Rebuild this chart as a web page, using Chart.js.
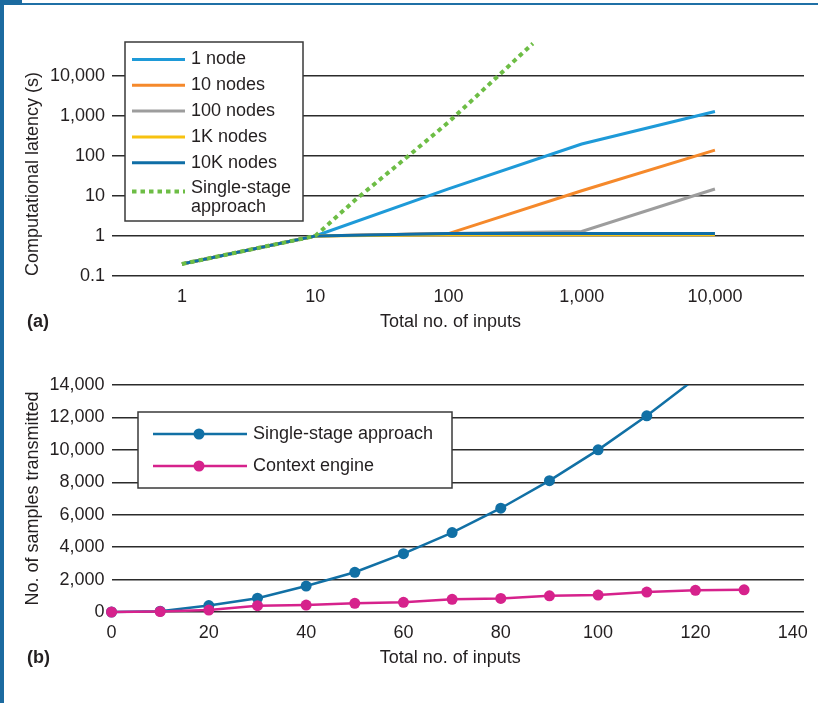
<!DOCTYPE html>
<html>
<head>
<meta charset="utf-8">
<title>Latency and samples</title>
<script src="https://cdn.jsdelivr.net/npm/chart.js@4.4.1/dist/chart.umd.min.js"></script>
<style>
  html, body { margin: 0; padding: 0; background: #fff; }
  #wrap { position: relative; width: 818px; height: 703px; overflow: hidden;
          font-family: "Liberation Sans", Arial, sans-serif; color: #231f20; }
  .frame-left { position: absolute; left: 0; top: 0; width: 4px; height: 703px; background: #1c6ba0; }
  .frame-top { position: absolute; left: 0; top: 3px; width: 818px; height: 2px; background: #1f70a6; }
  .frame-corner { position: absolute; left: 0; top: 0; width: 22px; height: 5px; background: #1c6ba0; }
  .panel { position: absolute; left: 27px; font-weight: bold; font-size: 18px; line-height: 20px; }
  canvas { position: absolute; left: 0; }
  #chartA { top: 0; }
  #chartB { top: 340px; }
</style>
</head>
<body>
<div id="wrap">
  <canvas id="chartA" width="818" height="340"></canvas>
  <canvas id="chartB" width="818" height="363"></canvas>
  <div class="panel" style="top:311px">(a)</div>
  <div class="panel" style="top:647px">(b)</div>
  <div class="frame-left"></div>
  <div class="frame-top"></div>
  <div class="frame-corner"></div>
</div>
<script>
// Dados do gráfico (a): latência x número de entradas (escala log)
const inputsA = [1, 10, 100, 1000, 10000];
const oneNode = [0.2, 1, 15, 200, 1300];
const tenNodes = [0.2, 1, 1.15, 13.5, 140];
const hundredNodes = [0.2, 1, 1.15, 1.3, 15];
const oneKNodes = [0.2, 1, 1.07, 1.07, 1.07];
const tenKNodes = [0.2, 1, 1.15, 1.15, 1.15];
const singleInputsA = [1, 10, 20, 50, 100, 200, 430];
const singleLatency = [0.2, 1, 8, 100, 700, 6000, 65000];
const xTicksA = [1, 10, 100, 1000, 10000];
const yTicksA = [0.1, 1, 10, 100, 1000, 10000];
const legendLabelsA = ['1 node', '10 nodes', '100 nodes', '1K nodes', '10K nodes', ['Single-stage', 'approach']];

// Dados do gráfico (b): amostras transmitidas
const inputsB = [0, 10, 20, 30, 40, 50, 60, 70, 80, 90, 100, 110, 120, 130];
const singleSamples = [0, 50, 400, 850, 1600, 2450, 3600, 4900, 6400, 8100, 10000, 12100, 14400];
const contextSamples = [0, 30, 120, 390, 430, 535, 600, 780, 840, 1000, 1045, 1230, 1335, 1370];
const xTicksB = [0, 20, 40, 60, 80, 100, 120, 140];
const yTicksB = [0, 2000, 4000, 6000, 8000, 10000, 12000, 14000];
const legendLabelsB = ['Single-stage approach', 'Context engine'];

const FONT = '"Liberation Sans", Arial, sans-serif';
const TEXT = '#231f20';
const GRID = '#2b2b2b';
// espaços no fim deslocam o título um pouco para a esquerda, como no original
const X_TITLE = 'Total no. of inputs\u00a0\u00a0\u00a0';

Chart.defaults.font.family = FONT;
Chart.defaults.font.size = 18;
Chart.defaults.color = TEXT;

function pairs(xs, ys) {
    return ys.map((y, i) => ({ x: xs[i], y: y }));
}

function fmt(v) {
    return Number(v).toLocaleString('en-US');
}

// Legenda desenhada dentro da área do gráfico (a)
const legendA = {
    id: 'legendA',
    afterDraw(chart) {
        const ctx = chart.ctx;
        ctx.save();
        ctx.fillStyle = '#fff';
        ctx.fillRect(125, 42, 178, 179);
        ctx.strokeStyle = '#3a3a3a';
        ctx.lineWidth = 1.5;
        ctx.strokeRect(125, 42, 178, 179);
        ctx.font = '18px ' + FONT;
        ctx.textBaseline = 'middle';
        chart.data.datasets.forEach((ds, i) => {
            const y = 59.5 + i * 25.8;
            const lines = [].concat(legendLabelsA[i]);
            const lineY = lines.length > 1 ? y + 3 : y;
            ctx.strokeStyle = ds.borderColor;
            ctx.lineWidth = ds.borderWidth;
            ctx.setLineDash(ds.borderDash || []);
            ctx.beginPath();
            ctx.moveTo(132, lineY);
            ctx.lineTo(185, lineY);
            ctx.stroke();
            ctx.setLineDash([]);
            ctx.fillStyle = TEXT;
            lines.forEach((t, j) => ctx.fillText(t, 191, y + j * 18.3));
        });
        ctx.restore();
    }
};

// Legenda do gráfico (b)
const legendB = {
    id: 'legendB',
    afterDraw(chart) {
        const ctx = chart.ctx;
        ctx.save();
        ctx.fillStyle = '#fff';
        ctx.fillRect(138, 72, 314, 76);
        ctx.strokeStyle = '#3a3a3a';
        ctx.lineWidth = 1.5;
        ctx.strokeRect(138, 72, 314, 76);
        ctx.font = '18px ' + FONT;
        ctx.textBaseline = 'middle';
        chart.data.datasets.forEach((ds, i) => {
            const y = 94 + i * 32;
            ctx.strokeStyle = ds.borderColor;
            ctx.lineWidth = ds.borderWidth;
            ctx.beginPath();
            ctx.moveTo(153, y);
            ctx.lineTo(247, y);
            ctx.stroke();
            ctx.fillStyle = ds.pointBackgroundColor;
            ctx.beginPath();
            ctx.arc(199, y, ds.pointRadius, 0, Math.PI * 2);
            ctx.fill();
            ctx.fillStyle = TEXT;
            ctx.fillText(legendLabelsB[i], 253, y);
        });
        ctx.restore();
    }
};

function lineSet(label, xs, ys, color, order, extra) {
    return Object.assign({
        label: label,
        data: pairs(xs, ys),
        borderColor: color,
        backgroundColor: color,
        borderWidth: 3,
        pointRadius: 0,
        tension: 0,
        order: order
    }, extra || {});
}

new Chart(document.getElementById('chartA'), {
    type: 'line',
    data: {
        datasets: [
            lineSet('1 node', inputsA, oneNode, '#1e9ad8', 5),
            lineSet('10 nodes', inputsA, tenNodes, '#f5892b', 4),
            lineSet('100 nodes', inputsA, hundredNodes, '#9d9d9d', 3),
            lineSet('1K nodes', inputsA, oneKNodes, '#f7c210', 2),
            lineSet('10K nodes', inputsA, tenKNodes, '#0f6ea6', 1),
            lineSet('Single-stage approach', singleInputsA, singleLatency, '#6dbd45', 0,
                { borderWidth: 4, borderDash: [4.5, 4], borderCapStyle: 'butt' })
        ]
    },
    options: {
        responsive: false,
        animation: false,
        layout: { padding: { left: 20, top: 40, right: 14, bottom: 7.2 } },
        plugins: { legend: { display: false }, tooltip: { enabled: false } },
        scales: {
            x: {
                type: 'logarithmic',
                min: 0.2985,
                max: 46600,
                afterFit: (scale) => { scale.height = 56.8; },
                grid: { display: false, drawTicks: false },
                border: { display: false },
                afterBuildTicks: (scale) => { scale.ticks = xTicksA.map(v => ({ value: v })); },
                ticks: { autoSkip: false, maxRotation: 0, padding: 10, callback: (v) => fmt(v) },
                title: { display: true, text: X_TITLE, padding: { top: 3.6, bottom: 0 } }
            },
            y: {
                type: 'logarithmic',
                min: 0.1,
                max: 79433,
                afterFit: (scale) => { scale.width = 92; },
                grid: { color: GRID, lineWidth: 1.5, drawTicks: false },
                border: { display: false },
                afterBuildTicks: (scale) => { scale.ticks = yTicksA.map(v => ({ value: v })); },
                ticks: { autoSkip: false, padding: 7, callback: (v) => fmt(v) },
                title: { display: true, text: 'Computational latency (s)', align: 'start', padding: { top: 2, bottom: 0 } }
            }
        }
    },
    plugins: [legendA]
});

new Chart(document.getElementById('chartB'), {
    type: 'line',
    data: {
        datasets: [
            lineSet('Single-stage approach', inputsB, singleSamples, '#1170a5', 1, {
                borderWidth: 2.5, pointRadius: 5.5, pointBackgroundColor: '#1170a5',
                pointBorderWidth: 0, clip: { left: false, right: false, bottom: false, top: 0 }
            }),
            lineSet('Context engine', inputsB, contextSamples, '#d6228c', 0, {
                borderWidth: 2.5, pointRadius: 5.5, pointBackgroundColor: '#d6228c',
                pointBorderWidth: 0, clip: false
            })
        ]
    },
    options: {
        responsive: false,
        animation: false,
        layout: { padding: { left: 20, top: 45, right: 14, bottom: 34.2 } },
        plugins: { legend: { display: false }, tooltip: { enabled: false } },
        scales: {
            x: {
                type: 'linear',
                min: 0,
                max: 142.3,
                afterFit: (scale) => { scale.height = 56.8; },
                grid: { display: false, drawTicks: false },
                border: { display: false },
                afterBuildTicks: (scale) => { scale.ticks = xTicksB.map(v => ({ value: v })); },
                ticks: { autoSkip: false, maxRotation: 0, padding: 10 },
                title: { display: true, text: X_TITLE, padding: { top: 3.6, bottom: 0 } }
            },
            y: {
                type: 'linear',
                min: 0,
                max: 14000,
                afterFit: (scale) => { scale.width = 91.5; },
                grid: { color: GRID, lineWidth: 1.5, drawTicks: false },
                border: { display: false },
                afterBuildTicks: (scale) => { scale.ticks = yTicksB.map(v => ({ value: v })); },
                ticks: { autoSkip: false, padding: 7, callback: (v) => fmt(v) },
                title: { display: true, text: 'No. of samples transmitted', padding: { top: 2, bottom: 0 } }
            }
        }
    },
    plugins: [legendB]
});
</script>
</body>
</html>
